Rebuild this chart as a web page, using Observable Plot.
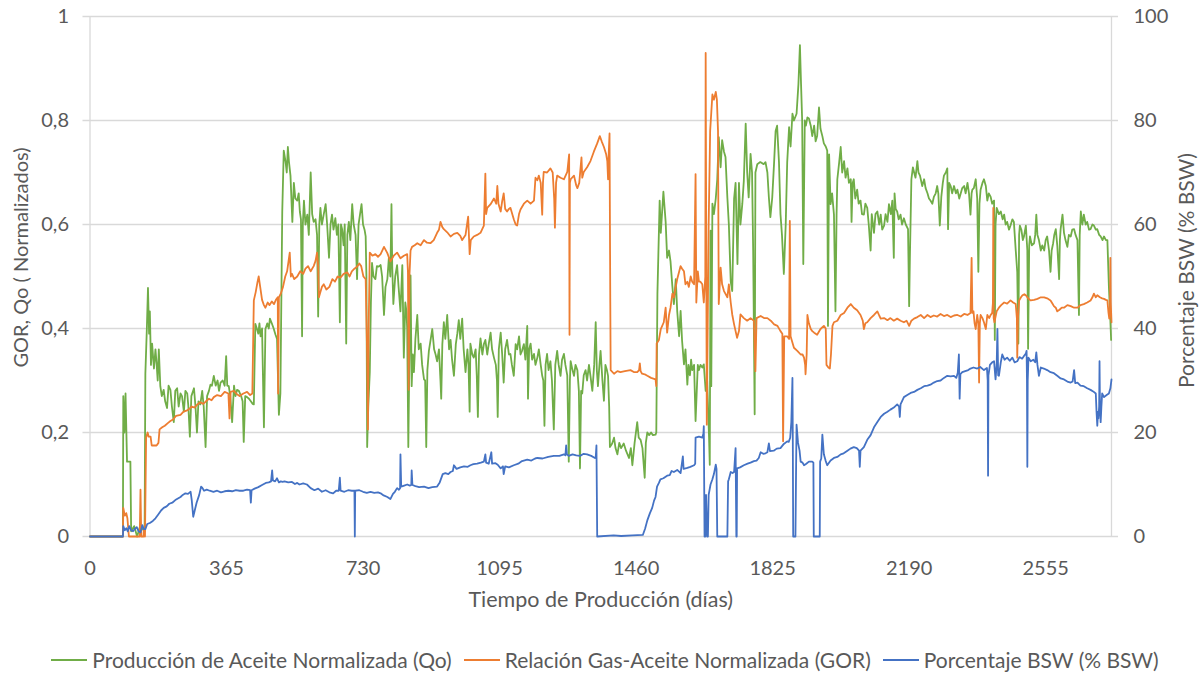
<!DOCTYPE html>
<html><head><meta charset="utf-8">
<script src="https://cdn.jsdelivr.net/npm/d3@7"></script>
<script src="https://cdn.jsdelivr.net/npm/@observablehq/plot@0.6"></script>
<style>
body{margin:0;background:#fff;}
#chart{width:1202px;height:640px;}
#legend{width:1202px;height:39px;display:flex;justify-content:center;align-items:center;font-family:Lato,"Open Sans",sans-serif;font-size:21px;color:#595959;padding-left:8px;box-sizing:border-box;}
#legend .item{display:flex;align-items:center;margin:0 6px;}
#legend .sw{display:inline-block;width:36px;height:2px;margin-right:5px;}
</style></head><body>
<div id="chart"></div>
<div id="legend"></div>
<script>
const xTicks = [0,365,730,1095,1460,1825,2190,2555];
const yTicks = [0,0.2,0.4,0.6,0.8,1];
const yLabelsLeft = ["0","0,2","0,4","0,6","0,8","1"];
const yLabelsRight = ["0","20","40","60","80","100"];
const seriesNames = ["Producción de Aceite Normalizada (Qo)","Relación Gas-Aceite Normalizada (GOR)","Porcentaje BSW (% BSW)"];
const seriesColors = ["#70AD47","#ED7D31","#4472C4"];
const xMax = 2731;

// Qo normalized: [day, value]
const qo = [[0,0],[88,0],[89,0.27],[92,0.2],[95,0.275],[99,0.144],[108,0.144],[110,0.01],[118,0.02],[126,0.0],[134,0.02],[146,0.01],[148,0.313],[152,0.40],[155,0.478],[158,0.39],[160,0.433],[163,0.33],[166,0.371],[171,0.323],[175,0.36],[178,0.333],[181,0.30],[184,0.36],[188,0.289],[192,0.27],[197,0.282],[201,0.26],[206,0.247],[210,0.29],[215,0.282],[219,0.25],[224,0.22],[228,0.28],[233,0.285],[237,0.25],[242,0.275],[246,0.27],[251,0.24],[255,0.28],[260,0.275],[263,0.25],[267,0.192],[271,0.27],[278,0.285],[282,0.25],[286,0.2],[290,0.26],[295,0.254],[300,0.28],[304,0.25],[309,0.172],[313,0.27],[318,0.28],[322,0.292],[326,0.29],[331,0.309],[336,0.29],[341,0.30],[345,0.28],[349,0.296],[355,0.30],[360,0.29],[364,0.347],[367,0.29],[371,0.289],[375,0.27],[380,0.22],[385,0.29],[389,0.27],[393,0.282],[398,0.28],[404,0.27],[408,0.26],[411,0.182],[415,0.27],[420,0.268],[425,0.265],[430,0.26],[435,0.255],[438,0.254],[442,0.409],[446,0.40],[450,0.39],[453,0.41],[456,0.385],[460,0.40],[465,0.21],[469,0.399],[474,0.41],[478,0.40],[481,0.419],[486,0.41],[491,0.40],[496,0.388],[500,0.38],[505,0.234],[509,0.275],[514,0.625],[518,0.742],[523,0.72],[526,0.70],[529,0.749],[532,0.72],[536,0.694],[541,0.605],[545,0.68],[549,0.65],[554,0.646],[558,0.66],[561,0.625],[564,0.61],[567,0.385],[569,0.60],[572,0.646],[576,0.60],[581,0.619],[585,0.58],[590,0.70],[594,0.62],[598,0.605],[603,0.61],[607,0.58],[610,0.423],[613,0.60],[616,0.632],[620,0.60],[625,0.62],[630,0.639],[634,0.60],[639,0.536],[643,0.60],[647,0.619],[651,0.59],[656,0.612],[660,0.58],[664,0.60],[668,0.412],[671,0.60],[674,0.591],[678,0.56],[681,0.60],[685,0.371],[688,0.58],[692,0.605],[696,0.57],[701,0.639],[705,0.60],[710,0.58],[714,0.495],[718,0.60],[722,0.62],[726,0.639],[730,0.60],[734,0.59],[737,0.577],[739,0.50],[741,0.172],[744,0.25],[748,0.316],[751,0.45],[754,0.526],[758,0.50],[763,0.495],[767,0.52],[772,0.519],[777,0.522],[781,0.50],[786,0.426],[790,0.48],[795,0.495],[799,0.536],[803,0.50],[806,0.639],[808,0.52],[811,0.447],[816,0.50],[821,0.522],[825,0.48],[830,0.433],[835,0.522],[839,0.344],[843,0.45],[846,0.433],[848,0.40],[851,0.172],[854,0.35],[857,0.502],[860,0.289],[863,0.35],[866,0.316],[870,0.38],[875,0.426],[879,0.36],[884,0.371],[888,0.33],[893,0.302],[896,0.30],[899,0.172],[902,0.32],[906,0.357],[911,0.38],[915,0.399],[920,0.36],[924,0.35],[928,0.337],[933,0.36],[937,0.30],[939,0.265],[942,0.37],[946,0.412],[950,0.38],[955,0.426],[960,0.36],[964,0.378],[968,0.34],[973,0.309],[978,0.37],[982,0.39],[986,0.416],[990,0.38],[995,0.419],[999,0.36],[1004,0.316],[1009,0.36],[1012,0.33],[1015,0.24],[1017,0.371],[1022,0.35],[1026,0.344],[1031,0.36],[1034,0.31],[1037,0.23],[1040,0.35],[1044,0.381],[1049,0.35],[1053,0.37],[1057,0.378],[1062,0.35],[1066,0.37],[1071,0.392],[1075,0.36],[1080,0.344],[1085,0.33],[1088,0.30],[1090,0.23],[1093,0.36],[1098,0.392],[1102,0.35],[1106,0.296],[1110,0.36],[1115,0.378],[1120,0.35],[1124,0.351],[1128,0.33],[1133,0.309],[1138,0.37],[1142,0.36],[1147,0.385],[1151,0.35],[1155,0.357],[1160,0.37],[1164,0.34],[1169,0.405],[1171,0.265],[1174,0.36],[1178,0.371],[1182,0.34],[1187,0.351],[1191,0.33],[1196,0.344],[1200,0.36],[1205,0.33],[1209,0.309],[1212,0.30],[1215,0.213],[1218,0.33],[1222,0.351],[1226,0.32],[1231,0.337],[1235,0.30],[1240,0.206],[1244,0.33],[1249,0.357],[1253,0.33],[1258,0.309],[1262,0.34],[1267,0.351],[1271,0.33],[1276,0.31],[1280,0.144],[1283,0.30],[1285,0.337],[1290,0.32],[1294,0.309],[1298,0.33],[1303,0.32],[1307,0.28],[1310,0.131],[1313,0.28],[1316,0.275],[1320,0.31],[1325,0.32],[1329,0.30],[1334,0.33],[1338,0.309],[1343,0.28],[1348,0.33],[1352,0.412],[1355,0.32],[1358,0.289],[1362,0.33],[1365,0.357],[1370,0.30],[1374,0.261],[1378,0.33],[1382,0.32],[1385,0.309],[1388,0.25],[1390,0.172],[1396,0.179],[1401,0.19],[1405,0.17],[1410,0.158],[1415,0.18],[1420,0.17],[1427,0.179],[1433,0.165],[1441,0.151],[1446,0.17],[1450,0.137],[1456,0.18],[1463,0.22],[1467,0.19],[1472,0.186],[1477,0.17],[1483,0.113],[1486,0.18],[1490,0.2],[1495,0.195],[1500,0.20],[1505,0.195],[1512,0.196],[1514,0.2],[1517,0.467],[1523,0.646],[1526,0.584],[1533,0.663],[1539,0.605],[1543,0.536],[1548,0.55],[1552,0.529],[1557,0.481],[1561,0.447],[1566,0.495],[1570,0.433],[1575,0.385],[1579,0.434],[1583,0.376],[1588,0.331],[1592,0.36],[1597,0.292],[1600,0.33],[1604,0.31],[1607,0.34],[1610,0.32],[1615,0.33],[1619,0.222],[1625,0.33],[1628,0.32],[1632,0.33],[1637,0.325],[1641,0.331],[1646,0.28],[1650,0.30],[1655,0.192],[1657,0.138],[1659,0.588],[1661,0.289],[1664,0.64],[1668,0.62],[1673,0.65],[1677,0.687],[1681,0.768],[1686,0.71],[1690,0.762],[1695,0.74],[1699,0.73],[1704,0.652],[1708,0.60],[1713,0.49],[1717,0.472],[1722,0.65],[1726,0.68],[1731,0.524],[1735,0.68],[1739,0.60],[1744,0.64],[1748,0.684],[1753,0.794],[1757,0.70],[1761,0.652],[1766,0.736],[1770,0.70],[1773,0.55],[1777,0.235],[1779,0.70],[1784,0.716],[1792,0.72],[1801,0.716],[1806,0.72],[1811,0.70],[1815,0.652],[1819,0.614],[1824,0.652],[1829,0.72],[1833,0.78],[1837,0.79],[1842,0.72],[1846,0.62],[1850,0.58],[1855,0.505],[1860,0.60],[1864,0.72],[1869,0.787],[1873,0.75],[1878,0.813],[1882,0.80],[1889,0.813],[1894,0.87],[1898,0.945],[1901,0.87],[1904,0.80],[1907,0.524],[1911,0.80],[1914,0.79],[1918,0.806],[1922,0.804],[1927,0.79],[1931,0.77],[1936,0.79],[1940,0.76],[1944,0.77],[1949,0.825],[1953,0.784],[1958,0.77],[1962,0.756],[1967,0.75],[1971,0.742],[1973,0.405],[1976,0.735],[1980,0.639],[1984,0.66],[1989,0.619],[1993,0.433],[1996,0.62],[1998,0.687],[2003,0.72],[2007,0.749],[2011,0.70],[2016,0.722],[2020,0.69],[2025,0.708],[2029,0.68],[2034,0.687],[2036,0.605],[2039,0.68],[2042,0.687],[2046,0.65],[2051,0.667],[2055,0.64],[2060,0.646],[2064,0.62],[2069,0.619],[2073,0.64],[2078,0.632],[2082,0.60],[2087,0.55],[2090,0.62],[2096,0.584],[2100,0.62],[2105,0.625],[2110,0.60],[2114,0.619],[2118,0.59],[2123,0.598],[2127,0.62],[2132,0.605],[2136,0.639],[2141,0.62],[2145,0.646],[2149,0.536],[2151,0.66],[2154,0.63],[2158,0.625],[2162,0.61],[2167,0.619],[2171,0.60],[2176,0.612],[2181,0.60],[2187,0.591],[2190,0.443],[2192,0.536],[2196,0.687],[2200,0.71],[2203,0.701],[2207,0.69],[2212,0.722],[2215,0.70],[2219,0.694],[2225,0.674],[2230,0.687],[2234,0.67],[2239,0.66],[2243,0.65],[2247,0.646],[2252,0.64],[2256,0.653],[2261,0.66],[2265,0.674],[2268,0.66],[2272,0.598],[2276,0.653],[2280,0.68],[2283,0.694],[2288,0.70],[2292,0.708],[2294,0.591],[2297,0.68],[2301,0.674],[2305,0.66],[2310,0.674],[2315,0.66],[2319,0.667],[2324,0.65],[2328,0.66],[2332,0.67],[2337,0.674],[2341,0.66],[2346,0.68],[2350,0.66],[2354,0.619],[2357,0.66],[2359,0.667],[2363,0.67],[2368,0.687],[2372,0.65],[2375,0.509],[2378,0.64],[2381,0.667],[2386,0.68],[2390,0.687],[2395,0.674],[2399,0.646],[2403,0.66],[2408,0.653],[2412,0.64],[2417,0.646],[2419,0.378],[2421,0.60],[2424,0.632],[2430,0.62],[2435,0.625],[2440,0.61],[2444,0.619],[2448,0.60],[2452,0.605],[2457,0.59],[2461,0.598],[2466,0.61],[2470,0.605],[2475,0.55],[2479,0.509],[2482,0.371],[2484,0.58],[2486,0.598],[2490,0.59],[2494,0.57],[2497,0.577],[2502,0.598],[2506,0.55],[2508,0.361],[2511,0.56],[2513,0.577],[2518,0.56],[2524,0.564],[2527,0.58],[2530,0.619],[2533,0.58],[2537,0.57],[2542,0.55],[2546,0.56],[2551,0.55],[2555,0.57],[2559,0.577],[2564,0.55],[2568,0.509],[2571,0.55],[2575,0.564],[2578,0.58],[2582,0.591],[2586,0.56],[2591,0.495],[2593,0.57],[2595,0.591],[2600,0.619],[2604,0.584],[2608,0.57],[2613,0.557],[2617,0.58],[2622,0.577],[2626,0.59],[2631,0.591],[2635,0.58],[2640,0.57],[2644,0.426],[2646,0.58],[2649,0.625],[2653,0.60],[2657,0.619],[2662,0.60],[2666,0.605],[2671,0.59],[2675,0.591],[2680,0.60],[2684,0.598],[2689,0.59],[2693,0.591],[2698,0.58],[2702,0.577],[2707,0.57],[2711,0.577],[2716,0.57],[2720,0.57],[2724,0.481],[2727,0.433],[2730,0.378]];

// GOR normalized: [day, value]
const gor = [[0,0],[88,0],[89,0.055],[93,0.04],[97,0.045],[100,0.035],[104,0.0],[133,0.0],[135,0.09],[137,0.0],[143,0.0],[144,0.014],[147,0.0],[150,0.19],[154,0.2],[157,0.192],[162,0.192],[165,0.175],[178,0.175],[183,0.18],[186,0.206],[193,0.21],[200,0.213],[208,0.218],[215,0.222],[222,0.225],[230,0.232],[242,0.234],[250,0.24],[258,0.242],[265,0.245],[272,0.25],[280,0.248],[287,0.254],[295,0.258],[303,0.255],[310,0.26],[318,0.265],[325,0.262],[331,0.268],[340,0.272],[350,0.27],[360,0.278],[370,0.275],[373,0.227],[376,0.278],[385,0.28],[392,0.274],[400,0.27],[410,0.275],[420,0.278],[428,0.272],[434,0.275],[438,0.454],[443,0.47],[448,0.49],[451,0.50],[455,0.48],[460,0.455],[465,0.445],[469,0.44],[475,0.45],[480,0.445],[486,0.452],[492,0.447],[497,0.455],[502,0.46],[503,0.275],[505,0.46],[510,0.467],[516,0.48],[522,0.50],[527,0.51],[534,0.546],[537,0.50],[540,0.505],[546,0.495],[554,0.50],[562,0.51],[570,0.505],[576,0.515],[583,0.52],[590,0.51],[598,0.52],[603,0.53],[607,0.546],[610,0.52],[612,0.46],[616,0.47],[620,0.48],[625,0.485],[632,0.475],[640,0.48],[648,0.495],[655,0.49],[662,0.50],[670,0.498],[678,0.505],[688,0.508],[694,0.50],[700,0.51],[707,0.515],[714,0.519],[720,0.525],[725,0.52],[731,0.50],[737,0.495],[741,0.35],[743,0.206],[745,0.40],[748,0.546],[755,0.54],[763,0.543],[770,0.538],[777,0.543],[786,0.557],[795,0.545],[803,0.529],[812,0.54],[821,0.546],[830,0.535],[839,0.54],[848,0.543],[850,0.509],[852,0.282],[854,0.50],[857,0.55],[861,0.557],[868,0.56],[875,0.564],[884,0.56],[893,0.57],[901,0.565],[910,0.564],[919,0.57],[928,0.584],[933,0.59],[937,0.605],[942,0.595],[946,0.591],[955,0.585],[964,0.577],[973,0.582],[982,0.584],[990,0.578],[995,0.57],[1004,0.58],[1011,0.615],[1013,0.58],[1015,0.543],[1018,0.57],[1026,0.577],[1035,0.58],[1044,0.584],[1053,0.598],[1057,0.698],[1059,0.62],[1062,0.632],[1071,0.639],[1080,0.65],[1086,0.64],[1089,0.674],[1092,0.64],[1098,0.625],[1102,0.645],[1106,0.66],[1110,0.63],[1115,0.625],[1120,0.63],[1124,0.632],[1133,0.61],[1138,0.60],[1142,0.598],[1147,0.62],[1151,0.629],[1160,0.64],[1169,0.646],[1178,0.64],[1187,0.646],[1191,0.69],[1196,0.685],[1200,0.694],[1205,0.68],[1209,0.619],[1211,0.68],[1213,0.701],[1222,0.70],[1231,0.708],[1237,0.70],[1241,0.65],[1243,0.594],[1246,0.68],[1249,0.694],[1258,0.69],[1267,0.687],[1276,0.701],[1281,0.735],[1282,0.388],[1283,0.68],[1285,0.687],[1294,0.694],[1300,0.675],[1303,0.67],[1308,0.68],[1314,0.729],[1316,0.69],[1320,0.701],[1329,0.71],[1338,0.722],[1347,0.74],[1356,0.756],[1363,0.77],[1368,0.76],[1374,0.749],[1380,0.735],[1383,0.722],[1385,0.687],[1387,0.74],[1389,0.775],[1391,0.45],[1392,0.32],[1401,0.313],[1410,0.318],[1418,0.316],[1430,0.318],[1445,0.32],[1455,0.316],[1463,0.316],[1468,0.32],[1470,0.333],[1472,0.318],[1476,0.313],[1483,0.312],[1490,0.309],[1500,0.305],[1512,0.302],[1514,0.289],[1515,0.371],[1521,0.378],[1526,0.399],[1534,0.412],[1539,0.44],[1543,0.392],[1548,0.426],[1552,0.44],[1557,0.467],[1561,0.46],[1566,0.48],[1570,0.495],[1579,0.52],[1583,0.515],[1588,0.51],[1592,0.485],[1597,0.49],[1601,0.48],[1606,0.50],[1610,0.49],[1615,0.485],[1619,0.697],[1621,0.45],[1625,0.51],[1628,0.49],[1632,0.49],[1637,0.485],[1641,0.45],[1645,0.50],[1646,0.93],[1649,0.215],[1654,0.60],[1658,0.78],[1664,0.85],[1668,0.84],[1673,0.855],[1676,0.84],[1679,0.78],[1681,0.447],[1686,0.517],[1690,0.485],[1695,0.472],[1704,0.46],[1708,0.485],[1713,0.45],[1717,0.427],[1722,0.408],[1730,0.382],[1735,0.395],[1739,0.427],[1748,0.42],[1757,0.415],[1766,0.42],[1775,0.415],[1779,0.318],[1782,0.42],[1793,0.424],[1802,0.42],[1811,0.42],[1820,0.415],[1829,0.408],[1838,0.405],[1846,0.395],[1851,0.39],[1853,0.183],[1856,0.385],[1864,0.385],[1869,0.38],[1871,0.607],[1873,0.385],[1882,0.363],[1891,0.357],[1900,0.35],[1905,0.35],[1909,0.344],[1912,0.33],[1913,0.312],[1916,0.35],[1918,0.426],[1922,0.41],[1927,0.399],[1931,0.395],[1936,0.392],[1944,0.388],[1953,0.399],[1962,0.405],[1967,0.40],[1969,0.33],[1974,0.325],[1978,0.323],[1981,0.35],[1985,0.405],[1989,0.412],[1998,0.415],[2007,0.426],[2016,0.43],[2025,0.44],[2034,0.447],[2042,0.44],[2051,0.435],[2060,0.426],[2066,0.415],[2069,0.399],[2073,0.41],[2078,0.412],[2087,0.42],[2096,0.426],[2105,0.433],[2110,0.425],[2114,0.419],[2123,0.42],[2132,0.416],[2140,0.42],[2149,0.415],[2158,0.419],[2167,0.415],[2176,0.412],[2183,0.415],[2190,0.405],[2196,0.415],[2203,0.419],[2212,0.422],[2221,0.426],[2230,0.42],[2239,0.426],[2247,0.422],[2256,0.425],[2265,0.423],[2274,0.428],[2283,0.424],[2292,0.426],[2301,0.422],[2310,0.425],[2319,0.426],[2328,0.423],[2337,0.428],[2346,0.426],[2354,0.43],[2357,0.536],[2359,0.43],[2362,0.433],[2365,0.41],[2368,0.399],[2372,0.426],[2375,0.41],[2377,0.296],[2379,0.41],[2381,0.426],[2386,0.42],[2390,0.412],[2395,0.399],[2399,0.426],[2404,0.42],[2408,0.426],[2412,0.43],[2414,0.45],[2415,0.632],[2416,0.42],[2418,0.412],[2424,0.433],[2430,0.44],[2436,0.445],[2444,0.45],[2452,0.448],[2461,0.454],[2468,0.45],[2475,0.447],[2478,0.42],[2479,0.344],[2481,0.42],[2484,0.454],[2489,0.46],[2493,0.464],[2498,0.466],[2502,0.464],[2506,0.46],[2511,0.456],[2515,0.454],[2524,0.455],[2533,0.457],[2542,0.46],[2551,0.46],[2559,0.458],[2568,0.454],[2573,0.448],[2577,0.443],[2582,0.44],[2586,0.433],[2592,0.436],[2598,0.44],[2604,0.44],[2613,0.445],[2622,0.443],[2631,0.44],[2640,0.44],[2648,0.445],[2657,0.447],[2666,0.45],[2675,0.454],[2680,0.46],[2684,0.467],[2689,0.46],[2693,0.464],[2700,0.46],[2706,0.458],[2711,0.457],[2716,0.455],[2720,0.454],[2723,0.43],[2725,0.419],[2727,0.44],[2728,0.536],[2729,0.45],[2731,0.412]];

// BSW percent: [day, %]
const bsw = [[0,0],[88,0],[89,2.0],[93,1.2],[97,1.6],[101,1.0],[105,2.0],[110,1.2],[115,1.0],[120,1.5],[125,1.8],[130,1.0],[135,0.8],[140,2.2],[144,1.4],[148,1.4],[153,2.4],[160,2.6],[168,3.0],[175,3.5],[182,4.2],[190,5.0],[197,5.5],[205,5.8],[212,6.3],[220,6.5],[228,7.0],[235,7.3],[242,7.6],[248,8.0],[255,8.3],[262,8.2],[269,8.6],[272,7.0],[276,3.8],[280,5.0],[285,6.5],[292,8.0],[297,9.6],[300,9.4],[305,8.8],[312,9.0],[320,8.8],[330,8.6],[340,8.8],[350,8.5],[360,8.7],[370,8.8],[380,8.7],[390,8.9],[400,8.8],[410,8.8],[420,9.0],[428,8.9],[430,6.5],[432,8.9],[440,9.2],[450,9.5],[460,9.9],[470,10.3],[478,10.4],[484,10.6],[487,12.7],[489,10.8],[495,10.6],[500,11.2],[505,10.4],[510,10.6],[515,10.5],[520,10.6],[530,10.4],[540,10.5],[548,10.1],[554,10.3],[560,10.0],[570,10.2],[580,10.0],[590,9.3],[600,8.9],[610,9.2],[620,8.6],[630,8.9],[640,8.5],[650,8.3],[658,8.8],[665,8.8],[668,11.3],[670,8.8],[680,8.6],[690,8.9],[700,8.8],[707,8.8],[708,0],[709,8.8],[720,8.9],[730,8.6],[740,8.4],[750,8.6],[760,8.4],[770,8.5],[777,8.3],[785,7.9],[795,7.6],[803,7.2],[810,8.2],[815,8.6],[821,9.3],[826,9.0],[829,9.3],[830,15.8],[832,9.6],[840,9.8],[848,10.0],[855,9.8],[859,9.9],[860,12.7],[862,9.9],[870,9.7],[880,9.5],[893,9.6],[905,9.3],[915,9.5],[928,9.6],[935,10.4],[943,12.0],[950,12.2],[958,12.0],[964,12.4],[970,12.6],[973,13.7],[980,13.0],[990,13.3],[1000,13.5],[1010,13.4],[1017,13.7],[1025,13.9],[1035,14.0],[1045,14.2],[1053,14.4],[1057,15.8],[1059,14.2],[1066,14.0],[1073,16.2],[1075,14.0],[1084,14.1],[1090,13.8],[1098,13.1],[1104,13.5],[1106,12.0],[1110,13.5],[1120,13.3],[1133,13.7],[1145,14.0],[1155,14.5],[1169,14.8],[1180,14.6],[1190,15.0],[1196,15.1],[1210,15.0],[1225,15.3],[1240,15.5],[1255,15.5],[1267,15.8],[1271,15.6],[1273,17.5],[1275,15.8],[1280,15.5],[1290,15.8],[1300,15.6],[1310,15.5],[1320,15.9],[1329,15.8],[1340,15.5],[1350,15.1],[1352,15.2],[1354,17.5],[1356,0],[1400,0.2],[1420,0.1],[1450,0.2],[1478,0.3],[1484,1.5],[1490,3.1],[1497,4.5],[1503,5.5],[1508,6.9],[1512,7.6],[1516,9.6],[1521,10.3],[1525,11.0],[1533,11.2],[1543,11.7],[1550,11.8],[1555,12.6],[1561,12.4],[1570,12.8],[1579,12.2],[1585,15.4],[1587,13.0],[1597,13.2],[1605,13.4],[1615,13.7],[1618,14.0],[1619,19.0],[1628,19.2],[1637,19.0],[1640,19.8],[1641,21.2],[1643,0],[1645,0],[1647,8.0],[1650,0],[1652,0],[1654,8.0],[1659,10.0],[1664,11.0],[1668,12.0],[1673,13.8],[1675,13.0],[1677,0],[1704,0],[1706,10.6],[1708,11.0],[1713,12.4],[1718,12.2],[1722,12.4],[1726,17.0],[1728,0],[1729,0],[1730,13.1],[1738,13.3],[1748,13.7],[1758,14.0],[1766,14.2],[1775,14.5],[1782,14.6],[1788,15.1],[1793,16.2],[1800,15.9],[1806,16.0],[1811,16.2],[1815,17.9],[1818,16.4],[1828,16.5],[1836,16.9],[1846,17.0],[1855,17.8],[1864,18.3],[1868,18.2],[1872,19.0],[1875,22.0],[1878,30.5],[1879,18.0],[1880,0],[1886,0],[1888,15],[1889,21.5],[1893,18.0],[1897,16.5],[1900,14.4],[1905,14.2],[1909,13.7],[1915,14.0],[1922,14.4],[1931,14.4],[1934,14.2],[1935,0],[1951,0],[1952,14.4],[1955,15],[1958,19.6],[1962,15.8],[1967,14.5],[1971,13.7],[1980,14.6],[1989,15.1],[1998,15.3],[2007,15.8],[2015,16.0],[2025,16.5],[2033,16.9],[2042,17.2],[2050,17.0],[2056,16.5],[2058,13.4],[2060,16.5],[2069,17.2],[2078,18.6],[2087,19.5],[2096,21.0],[2105,22.0],[2114,23.0],[2123,23.6],[2132,24.0],[2140,24.4],[2149,24.8],[2158,25.4],[2163,25.0],[2165,23.0],[2167,25.4],[2176,26.8],[2185,27.2],[2194,27.6],[2203,27.8],[2212,28.2],[2221,28.5],[2230,28.9],[2239,29.0],[2247,29.2],[2256,29.6],[2265,29.9],[2274,30.0],[2283,30.5],[2292,30.9],[2301,30.8],[2310,30.9],[2316,30.5],[2320,31.5],[2323,35.0],[2325,26.5],[2327,31.2],[2332,31.6],[2340,31.8],[2348,32.0],[2354,32.3],[2362,32.5],[2372,32.3],[2380,32.6],[2390,32.0],[2398,32.4],[2400,30],[2401,11.7],[2402,31],[2406,33.0],[2412,33.5],[2417,33.7],[2421,30.2],[2424,33],[2426,39.9],[2428,31],[2430,30.9],[2435,33.5],[2439,35.0],[2445,34.0],[2452,34.4],[2459,33.8],[2466,34.4],[2472,33.5],[2479,33.7],[2485,34.5],[2492,34.2],[2497,34.7],[2502,35.2],[2504,35.7],[2505,30],[2506,13.4],[2507,30],[2509,34.4],[2515,33.7],[2522,34.0],[2527,33.5],[2530,35.4],[2533,33.0],[2537,30.9],[2542,32.5],[2550,32.3],[2559,32.0],[2568,31.6],[2577,31.4],[2586,30.9],[2595,30.4],[2604,30.2],[2613,29.8],[2622,29.6],[2627,29.8],[2631,32.0],[2634,29.5],[2640,29.6],[2648,29.0],[2657,28.9],[2666,28.5],[2675,28.2],[2682,27.9],[2689,27.5],[2691,24],[2693,21.3],[2695,24],[2696,22.7],[2698,25],[2699,33.7],[2700,26],[2702,22.0],[2704,25],[2706,27.5],[2711,26.8],[2718,27.2],[2724,27.5],[2728,28.5],[2731,30.2]];

const FONT = 'Lato, "Open Sans", sans-serif';
const grid = "#D9D9D9";
const txt = "#595959";

const chart = Plot.plot({
  width: 1202,
  height: 640,
  marginLeft: 89.5,
  marginRight: 91,
  marginTop: 16,
  marginBottom: 104,
  style: {fontFamily: FONT, fontSize: "20px", color: txt, background: "#fff"},
  x: {domain: [0, xMax], axis: null},
  y: {domain: [0, 1], axis: null},
  marks: [
    Plot.ruleY(yTicks, {stroke: grid, strokeWidth: 1.3, insetLeft: -7, insetRight: -7}),
    Plot.ruleX([0, xMax], {stroke: grid, strokeWidth: 1.3}),
    Plot.line(qo, {x: d => d[0], y: d => d[1], stroke: seriesColors[0], strokeWidth: 1.8}),
    Plot.line(gor, {x: d => d[0], y: d => d[1], stroke: seriesColors[1], strokeWidth: 1.8}),
    Plot.line(bsw, {x: d => d[0], y: d => d[1] / 100, stroke: seriesColors[2], strokeWidth: 1.8}),
    Plot.axisX(xTicks, {tickSize: 0, tickPadding: 24, label: null, fill: txt, fontSize: 20, tickFormat: d => String(d)}),
    Plot.axisY(yTicks, {anchor: "left", tickSize: 0, tickPadding: 21, label: null, fill: txt, fontSize: 20,
      tickFormat: d => yLabelsLeft[yTicks.indexOf(d)]}),
    Plot.axisY(yTicks, {anchor: "right", tickSize: 0, tickPadding: 22, label: null, fill: txt, fontSize: 20,
      tickFormat: d => yLabelsRight[yTicks.indexOf(d)]}),
    Plot.text(["GOR, Qo ( Normalizados)"], {frameAnchor: "left", textAnchor: "middle", dx: -68, dy: -19, rotate: -90, fill: txt, fontSize: 20}),
    Plot.text(["Porcentaje BSW (% BSW)"], {frameAnchor: "right", textAnchor: "middle", dx: 76, dy: -6, rotate: -90, fill: txt, fontSize: 21}),
    Plot.text(["Tiempo de Producción (días)"], {frameAnchor: "bottom", dy: 70, fill: txt, fontSize: 21.5})
  ]
});
document.getElementById("chart").appendChild(chart);

const legend = document.getElementById("legend");
seriesNames.forEach((name, i) => {
  const item = document.createElement("span");
  item.className = "item";
  const sw = document.createElement("span");
  sw.className = "sw";
  sw.style.background = seriesColors[i];
  const label = document.createElement("span");
  label.textContent = name;
  item.appendChild(sw);
  item.appendChild(label);
  legend.appendChild(item);
});
</script>
</body></html>
